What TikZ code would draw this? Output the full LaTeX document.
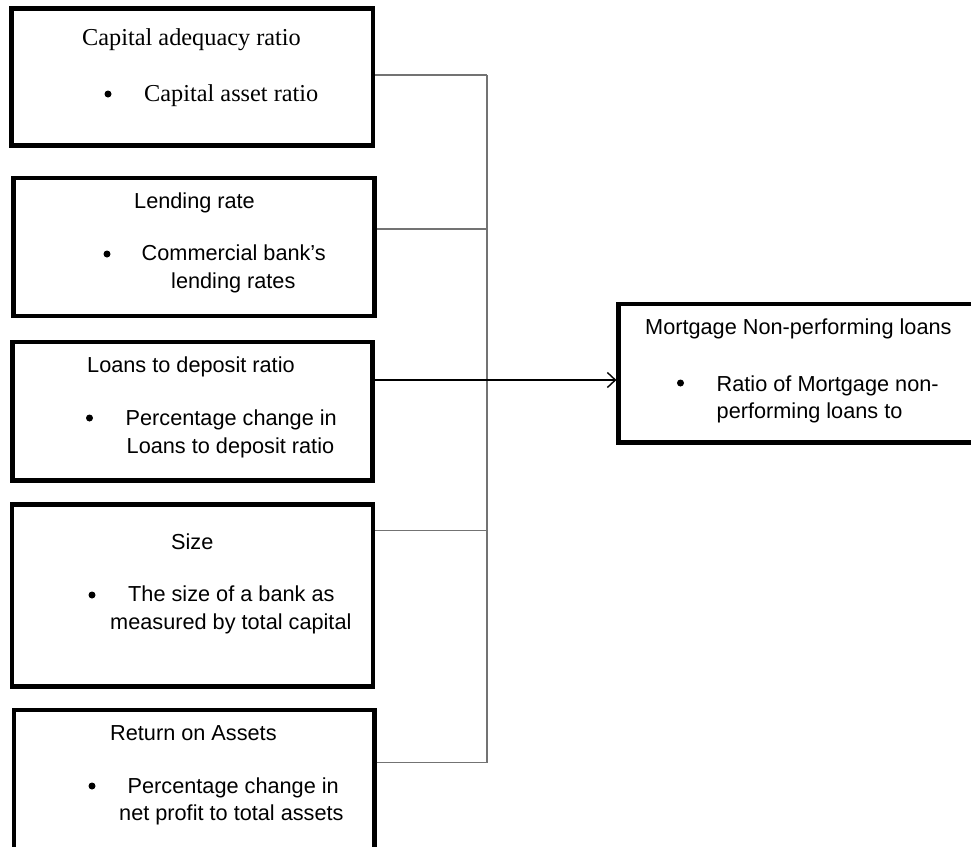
\documentclass[tikz,border=0pt]{standalone}
\usepackage{fontspec}
\setmainfont{Liberation Sans}
\newfontfamily\timesfont{Liberation Serif}
\usetikzlibrary{arrows.meta}
\tikzset{
  box/.style={draw=black, line width=4.2pt, rectangle, inner sep=0pt, fill=white},
  txt/.style={anchor=base west, inner sep=0pt, font=\fontsize{21.7}{29}\selectfont},
  ttxt/.style={anchor=base west, inner sep=0pt, font=\timesfont\fontsize{24.3}{29}\selectfont},
  bul/.style={circle, fill=black, inner sep=0pt, minimum size=7pt},
  conn/.style={draw=black!55, line width=1.4pt},
  arr/.style={draw=black, line width=1.4pt, -{Straight Barb[length=8pt,width=15pt]}}
}
\begin{document}
\begin{tikzpicture}[x=1pt,y=-1pt]
\useasboundingbox (0,0) rectangle (971,846);
\clip (0,0) rectangle (971,846);
\fill[white] (0,0) rectangle (971,846);
% boxes
\node[box, minimum width=361.5pt, minimum height=137pt] (b1) at (192.25,77) {};
\node[box, minimum width=361pt, minimum height=138pt] (b2) at (194,247) {};
\node[box, minimum width=360pt, minimum height=138.5pt] (b3) at (192.5,411.25) {};
\node[box, minimum width=361pt, minimum height=182pt] (b4) at (192.5,595.5) {};
\node[box, minimum width=360.5pt, minimum height=170pt] (b5) at (194.25,795) {};
\node[box, minimum width=381.5pt, minimum height=138.5pt] (r) at (809.25,373.25) {};
% box 1
\node[ttxt] (b1t) at (82,45) {Capital adequacy ratio};
\node[bul] (b1b) at (108,94) {};
\node[ttxt] (b1a) at (144,101) {Capital asset ratio};
% box 2
\node[txt] (b2t) at (134,208) {Lending rate};
\node[bul] (b2b) at (107,254) {};
\node[txt] (b2a) at (141.5,260) {Commercial bank’s};
\node[txt] (b2c) at (171,288) {lending rates};
% box 3
\node[txt] (b3t) at (87,372) {Loans to deposit ratio};
\node[bul] (b3b) at (89.5,418) {};
\node[txt] (b3a) at (125.5,425) {Percentage change in};
\node[txt] (b3c) at (126.5,453) {Loans to deposit ratio};
% box 4
\node[txt] (b4t) at (171,549) {Size};
\node[bul] (b4b) at (92,595) {};
\node[txt] (b4a) at (128,601) {The size of a bank as};
\node[txt] (b4c) at (110,629) {measured by total capital};
% box 5
\node[txt] (b5t) at (110,740) {Return on Assets};
\node[bul] (b5b) at (92,786) {};
\node[txt] (b5a) at (127.5,793) {Percentage change in};
\node[txt] (b5c) at (119,820) {net profit to total assets};
% right box
\node[txt] (rt) at (645,334) {Mortgage Non-performing loans};
\node[bul] (rb) at (680.5,383) {};
\node[txt] (ra) at (716.5,391) {Ratio of Mortgage non-};
\node[txt] (rc) at (716.5,418) {performing loans to};
% connectors
\coordinate (t1) at (487,75);
\coordinate (t2) at (487,229);
\coordinate (t3) at (487,380);
\coordinate (t4) at (487,530.5);
\coordinate (t5) at (487,762.5);
\draw[conn] (t1) -- (t5);
\draw[conn] (b1.east |- t1) -- (t1);
\draw[conn] (b2.east |- t2) -- (t2);
\draw[conn] (b4.east |- t4) -- (t4);
\draw[conn] (b5.east |- t5) -- (t5);
\draw[arr] (b3.east |- t3) -- (r.west |- t3);
\end{tikzpicture}
\end{document}
